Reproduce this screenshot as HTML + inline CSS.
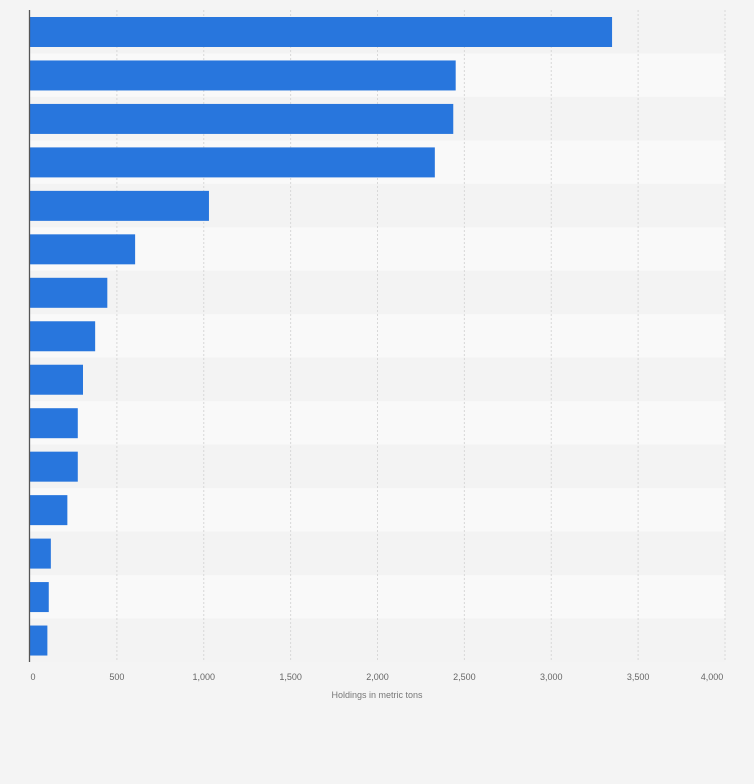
<!DOCTYPE html>
<html><head><meta charset="utf-8"><style>
body{margin:0;background:#f4f4f4;font-family:"Liberation Sans",sans-serif}
</style></head><body>
<svg id="chart" width="754" height="779" xmlns="http://www.w3.org/2000/svg">
<rect width="754" height="779" fill="#f4f4f4"/>
<g id="rows"></g><g id="grid"></g><g id="bars"></g><g id="ticks"></g>
<line x1="29.5" y1="10" x2="29.5" y2="662" stroke="#555" stroke-width="1.3"/>
<text x="377" y="698" font-size="9" fill="#777" text-anchor="middle">Holdings in metric tons</text>
</svg>
<script>
const categories=["c1","c2","c3","c4","c5","c6","c7","c8","c9","c10","c11","c12","c13","c14","c15"];
const values=[3350,2450,2436,2330,1030,605,445,375,305,275,275,215,120,108,100];
const tickValues=[0,500,1000,1500,2000,2500,3000,3500,4000];
const tickLabels=["0","500","1,000","1,500","2,000","2,500","3,000","3,500","4,000"];
const NS="http://www.w3.org/2000/svg";
const x0=30,x1=725,yTop=10,yBottom=662,xMax=4000;
const xs=v=>x0+v/xMax*(x1-x0);
const rowH=(yBottom-yTop)/categories.length;
function mk(t,a,p){const e=document.createElementNS(NS,t);for(const k in a)e.setAttribute(k,a[k]);document.getElementById(p).appendChild(e);return e;}
categories.forEach((c,i)=>{
 const r=mk('rect',{x:x0,y:yTop+i*rowH,width:x1-x0,height:rowH,fill:i%2?'#f9f9f9':'#f3f3f3'},'rows');
 
 
 const b=mk('rect',{x:x0,y:yTop+i*rowH+7,width:xs(values[i])-x0,height:30,fill:'#2876dd'},'bars');
 
 
});
tickValues.forEach((v,i)=>{
 if(v>0){const g=mk('line',{x1:xs(v),x2:xs(v),y1:yTop,y2:yBottom,stroke:'#d8d8d8','stroke-dasharray':'2,2'},'grid');
 
 }
 const t=mk('text',{x:i==0?xs(v)+3:(i==tickValues.length-1?xs(v)-13:xs(v)),y:680,'font-size':9,fill:'#666','text-anchor':'middle'},'ticks');
 t.textContent=tickLabels[i];
 
 
});
</script>
</body></html>
